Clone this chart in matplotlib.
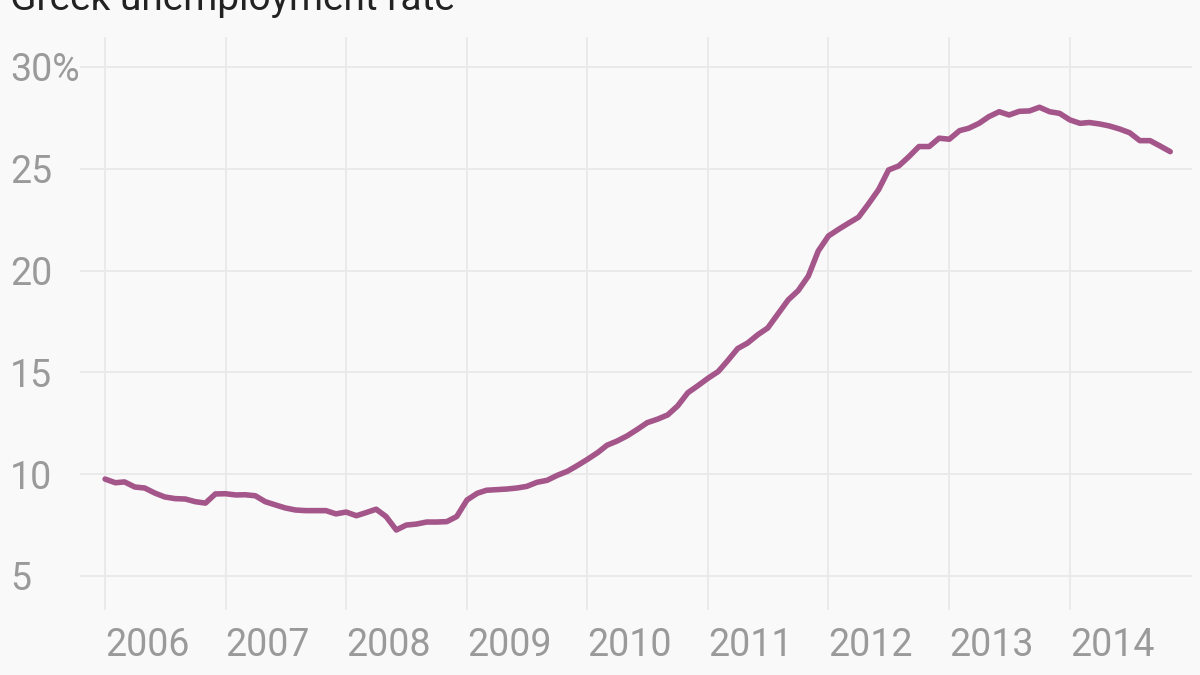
import matplotlib
matplotlib.use("Agg")
import matplotlib.pyplot as plt
import pandas as pd

# ---- data (monthly, seasonally adjusted, %) ----
start_month = "2006-01"
rate_2006 = [9.76, 9.58, 9.62, 9.37, 9.32, 9.07, 8.88, 8.80, 8.78, 8.65, 8.58, 9.03]
rate_2007 = [9.04, 8.98, 8.99, 8.94, 8.65, 8.49, 8.34, 8.24, 8.21, 8.21, 8.21, 8.05]
rate_2008 = [8.14, 7.96, 8.11, 8.28, 7.92, 7.26, 7.50, 7.55, 7.65, 7.65, 7.67, 7.92]
rate_2009 = [8.73, 9.06, 9.21, 9.24, 9.27, 9.32, 9.40, 9.60, 9.70, 9.94, 10.14, 10.42]
rate_2010 = [10.73, 11.06, 11.42, 11.63, 11.88, 12.20, 12.53, 12.70, 12.91, 13.35, 14.00, 14.34]
rate_2011 = [14.71, 15.04, 15.56, 16.17, 16.44, 16.85, 17.18, 17.87, 18.56, 19.01, 19.73, 20.96]
rate_2012 = [21.70, 22.03, 22.32, 22.62, 23.27, 23.98, 24.94, 25.14, 25.60, 26.09, 26.09, 26.50]
rate_2013 = [26.45, 26.87, 26.99, 27.23, 27.56, 27.80, 27.64, 27.82, 27.84, 28.02, 27.80, 27.72]
rate_2014 = [27.40, 27.23, 27.27, 27.20, 27.10, 26.95, 26.77, 26.38, 26.38, 26.12, 25.84]

year_ticks = [2006, 2007, 2008, 2009, 2010, 2011, 2012, 2013, 2014]
y_ticks = [5, 10, 15, 20, 25, 30]
y_tick_labels = ["5", "10", "15", "20", "25", "30%"]
title = "Greek unemployment rate"

rates = (rate_2006 + rate_2007 + rate_2008 + rate_2009 + rate_2010 +
         rate_2011 + rate_2012 + rate_2013 + rate_2014)
dates = pd.date_range(start_month, periods=len(rates), freq="MS")

# ---- style ----
BG = "#f9f9f9"
GRID = "#e9e9e9"
LABEL = "#9a9a9a"
LINE = "#a4568a"
plt.rcParams["font.family"] = ["Roboto", "DejaVu Sans"]

W, H = 1200, 675
fig = plt.figure(figsize=(W / 100, H / 100), dpi=100, facecolor=BG)
ax = fig.add_axes([80 / W, 1 - 610 / H, (1192 - 80) / W, (610 - 37) / H], facecolor=BG)

ax.plot(dates, rates, color=LINE, lw=4.0, solid_joinstyle="round", solid_capstyle="round", zorder=3)

ax.set_ylim(3.33, 31.47)
ax.set_xlim(pd.Timestamp("2005-10-17"), pd.Timestamp("2015-01-06"))

ax.set_yticks(y_ticks)
ax.set_yticklabels(y_tick_labels)
ax.set_xticks([pd.Timestamp(f"{y}-01-01") for y in year_ticks])
ax.set_xticklabels([str(y) for y in year_ticks])

ax.tick_params(axis="y", length=0, pad=50.4, labelsize=27, labelcolor=LABEL)
ax.tick_params(axis="x", length=0, pad=12, labelsize=27, labelcolor=LABEL)
for lab in ax.get_yticklabels():
    lab.set_horizontalalignment("left")
for lab in ax.get_xticklabels():
    lab.set_horizontalalignment("left")

ax.grid(True, color=GRID, lw=1.3, zorder=0)
for s in ax.spines.values():
    s.set_visible(False)

fig.text(10 / W, 1 - 10 / H, title, ha="left", va="baseline", fontsize=28, color="#222222")

fig.savefig("out.png", dpi=100, facecolor=BG)
